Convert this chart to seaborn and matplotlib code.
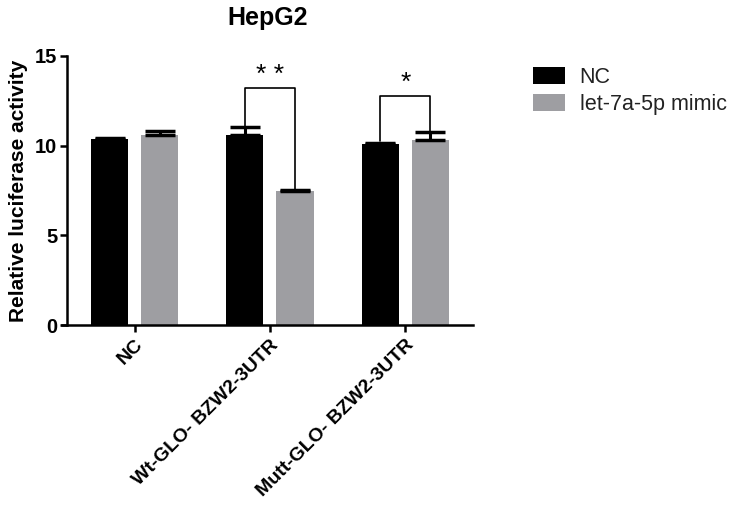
import numpy as np
import pandas as pd
import matplotlib
matplotlib.use("Agg")
import matplotlib.pyplot as plt
import seaborn as sns
from matplotlib.patches import Patch

# data
groups = ["NC", "Wt-GLO- BZW2-3UTR", "Mutt-GLO- BZW2-3UTR"]
treatments = ["NC", "let-7a-5p mimic"]
nc_vals = [10.4, 10.62, 10.1]
nc_err = [0.02, 0.4, 0.05]
mimic_vals = [10.62, 7.48, 10.32]
mimic_err = [0.18, 0.05, 0.45]
sig_groups = [1, 2]
sig_level = [13.2, 12.75]
sig_text = ["* *", "*"]

colors = ["#000000", "#9e9ea2"]

df = pd.DataFrame({
    "group": groups * 2,
    "treatment": [treatments[0]] * 3 + [treatments[1]] * 3,
    "value": nc_vals + mimic_vals,
    "err": nc_err + mimic_err,
})

sns.set_style("ticks")
plt.rcParams["font.family"] = ["Liberation Sans", "DejaVu Sans"]
plt.rcParams["font.weight"] = "bold"
plt.rcParams["text.color"] = "black"
plt.rcParams["axes.labelcolor"] = "black"
plt.rcParams["xtick.color"] = "black"
plt.rcParams["ytick.color"] = "black"

fig = plt.figure(figsize=(7.35, 5.09), dpi=100)
ax = fig.add_axes([0.0844, 0.361, 0.559, 0.529])

sns.barplot(data=df, x="group", y="value", hue="treatment", palette=colors,
            width=0.74, gap=0.26, errorbar=None, ax=ax, legend=False,
            saturation=1, linewidth=0)

# upper error bars only
xs = {}
for i, t in enumerate(treatments):
    cont = ax.containers[i]
    sub = df[df["treatment"] == t]
    x = [p.get_x() + p.get_width() / 2 for p in cont.patches]
    xs[t] = x
    ax.errorbar(x, sub["value"], yerr=[np.zeros(len(sub)), sub["err"]],
                fmt="none", ecolor="black", elinewidth=2.2, capsize=11,
                capthick=2.5, zorder=3)

# significance brackets
for g, lvl, txt in zip(sig_groups, sig_level, sig_text):
    x1 = xs[treatments[0]][g]
    x2 = xs[treatments[1]][g]
    y1 = nc_vals[g] + nc_err[g] + 0.1
    y2 = mimic_vals[g] + mimic_err[g]
    ax.plot([x1, x1, x2, x2], [y1, lvl, lvl, y2], color="black", lw=1.2)
    ax.text((x1 + x2) / 2, lvl + 0.1, txt, ha="center", va="bottom",
            fontsize=19, fontweight="normal")

sns.despine(ax=ax)
ax.spines["left"].set_position(("data", -0.5))
ax.set_ylim(0, 15)
ax.set_xlim(-0.537, 2.5)
ax.set_yticks([0, 5, 10, 15])
ax.set_xlabel("")
ax.set_ylabel("Relative luciferase activity", fontsize=15, fontweight="bold",
              labelpad=5)
ax.set_title("HepG2", fontsize=18, fontweight="bold", pad=22)
ax.set_xticks(range(len(groups)))
ax.set_xticklabels(groups, rotation=45, ha="right", rotation_mode="anchor",
                   fontsize=14, fontweight="bold")
ax.tick_params(axis="y", labelsize=14.5, pad=2)
ax.tick_params(axis="both", width=1.8, length=5, color="black")
ax.tick_params(axis="x", pad=3)
for s in ["left", "bottom"]:
    ax.spines[s].set_linewidth(1.8)
    ax.spines[s].set_color("black")

handles = [Patch(facecolor=c, edgecolor="none") for c in colors]
fig.legend(handles, treatments, loc="upper left", bbox_to_anchor=(0.725, 0.868),
           frameon=False, handlelength=1.47, handleheight=0.85,
           labelspacing=0.25, handletextpad=0.7, borderpad=0, borderaxespad=0,
           labelcolor="#222222", prop={"size": 15.5, "weight": "normal"})

fig.savefig("out.png", dpi=100)
